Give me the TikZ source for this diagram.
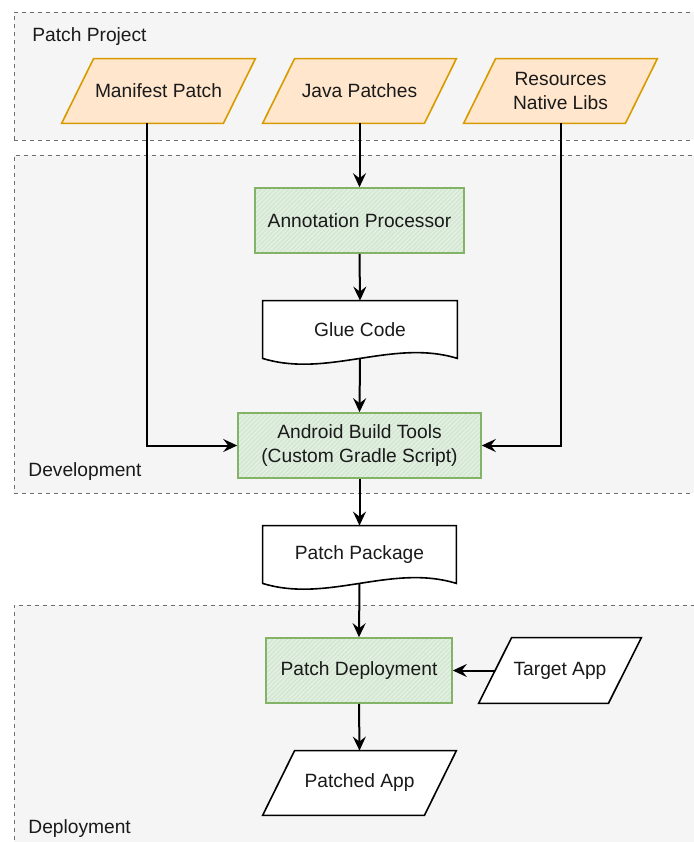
\documentclass[tikz,border=0pt]{standalone}
\usepackage{fontspec}
\setmainfont{Liberation Sans}
\usetikzlibrary{arrows.meta,calc,patterns.meta}
\definecolor{contfill}{HTML}{F5F5F5}
\definecolor{contline}{HTML}{6E6E6E}
\definecolor{orfill}{HTML}{FFE6CC}
\definecolor{orline}{HTML}{D79B00}
\definecolor{grfill}{HTML}{D5E8D4}
\definecolor{grline}{HTML}{82B366}
\definecolor{grhatch}{HTML}{E8F2E7}
\definecolor{txt}{HTML}{1A1A1A}
\pgfdeclarelayer{bg}
\pgfdeclarelayer{mid}
\pgfsetlayers{bg,mid,main}
\newcommand{\paraShape}[3]{%
  \begin{pgfonlayer}{mid}
  \path[#1] (#2.south west) -- ($(#2.north west)+(#3,0)$) -- (#2.north east) -- ($(#2.south east)+(-#3,0)$) -- cycle;
  \end{pgfonlayer}}
\newcommand{\docShape}[1]{%
  \begin{pgfonlayer}{mid}
  \path[docshape] (#1.south west) -- (#1.north west) -- (#1.north east) -- (#1.south east)
    .. controls ($(#1.south east)+(-65,-20)$) and ($(#1.south west)+(65,20)$) .. (#1.south west) -- cycle;
  \end{pgfonlayer}}
\begin{document}
\begin{tikzpicture}[x=0.5pt,y=-0.5pt,
  font=\fontsize{9.6}{12}\selectfont, text=txt,
  container/.style={draw=contline, fill=contfill, dash pattern=on 2pt off 2pt, line width=0.5pt, inner sep=0pt},
  clabel/.style={anchor=west, inner sep=0pt},
  box/.style={draw=none, inner sep=0pt, align=center},
  hatchbox/.style={preaction={fill=grfill}, pattern={Lines[angle=45,distance=1.6pt,line width=0.5pt]}, pattern color=grhatch, draw=grline, line width=0.8pt, align=center, inner sep=0pt, minimum height=32.5pt},
  paraio/.style={draw=orline, fill=orfill, line width=0.8pt},
  paraw/.style={draw=black, fill=white, line width=0.8pt},
  docshape/.style={draw=black, fill=white, line width=0.8pt},
  flow/.style={draw=black, line width=1pt, -{Stealth[length=7pt,width=6.5pt,inset=2.5pt]}},
]
\useasboundingbox (0,0) rectangle (693,842);

% containers
\begin{pgfonlayer}{bg}
\node[container, minimum width=343pt, minimum height=64pt] (cproj) at (357,76) {};
\node[container, minimum width=343pt, minimum height=169pt] (cdev) at (357,324) {};
\node[container, minimum width=343pt, minimum height=122.5pt] (cdep) at (357,727.5) {};
\end{pgfonlayer}
\node[clabel] (lproj) at (32,37) {Patch Project};
\node[clabel] (ldev) at (28,472) {Development};
\node[clabel] (ldep) at (28,829) {Deployment};

% inputs
\node[box, minimum width=96.5pt, minimum height=32pt] (mp) at (158.5,91) {Manifest Patch};
\node[box, minimum width=96.5pt, minimum height=32pt] (jp) at (359.5,91) {Java Patches};
\node[box, minimum width=96.5pt, minimum height=32pt] (rn) at (560.5,91) {Resources\\Native Libs};
\paraShape{paraio}{mp}{32}
\paraShape{paraio}{jp}{32}
\paraShape{paraio}{rn}{32}

% development
\node[hatchbox, minimum width=104.5pt] (ap) at (359.5,220.5) {Annotation Processor};
\node[box, minimum width=97pt, minimum height=28.5pt] (gc) at (360,329.5) {Glue Code};
\docShape{gc}
\node[hatchbox, minimum width=121.5pt] (abt) at (359.5,445.5) {Android Build Tools\\(Custom Gradle Script)};

% package
\node[box, minimum width=96.5pt, minimum height=28.5pt] (pp) at (359.5,554.5) {Patch Package};
\docShape{pp}

% deployment
\node[hatchbox, minimum width=93pt] (pd) at (359,670.5) {Patch Deployment};
\node[box, minimum width=81pt, minimum height=32.5pt] (ta) at (560,670.5) {Target App};
\paraShape{paraw}{ta}{33}
\node[box, minimum width=96.5pt, minimum height=32pt] (pa) at (359.5,783) {Patched App};
\paraShape{paraw}{pa}{32}

% connectors
\draw[flow] (jp.south) -- (ap.north);
\draw[flow] (ap.south) -- (gc.north);
\draw[flow] (gc.south) -- (abt.north);
\draw[flow] ($(mp.south)+(-11.5,0)$) |- (abt.west);
\draw[flow] (rn.south) |- (abt.east);
\draw[flow] (abt.south) -- (pp.north);
\draw[flow] (pp.south) -- (pd.north);
\draw[flow] ($(ta.west)+(16.5,0)$) -- (pd.east);
\draw[flow] (pd.south) -- (pa.north);
\end{tikzpicture}
\end{document}
